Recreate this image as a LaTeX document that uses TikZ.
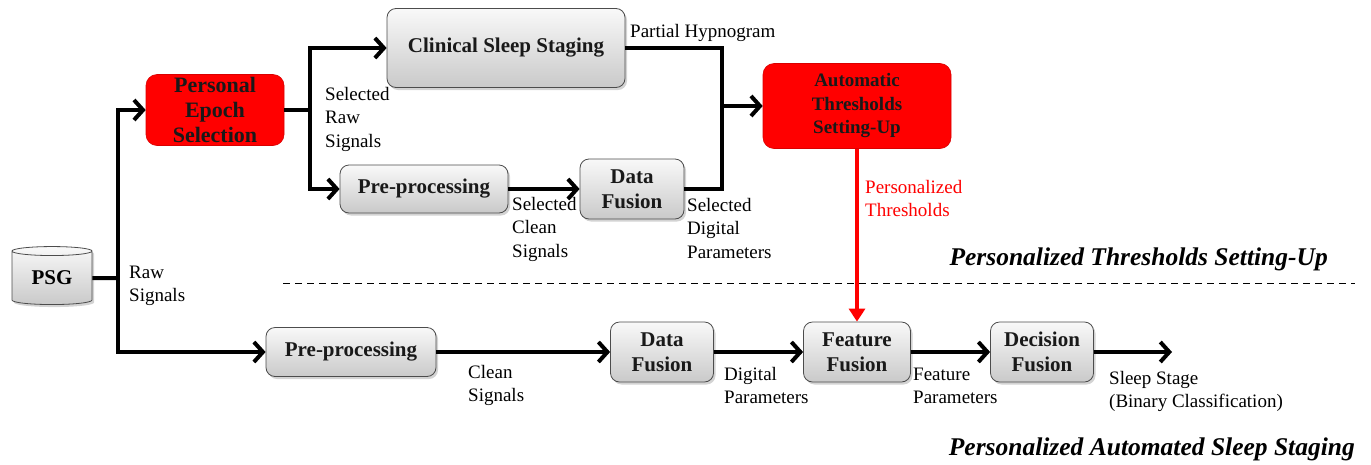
\documentclass[tikz,border=0pt]{standalone}
\usepackage{fontspec}
\setmainfont{Liberation Serif}
\usetikzlibrary{arrows.meta,shapes.geometric,shadows}
\begin{document}
\begin{tikzpicture}[x=1pt,y=-1pt,
  gbox/.style={rectangle, rounded corners=9pt, draw=black!70, line width=0.8pt,
    top color=gray!5, bottom color=gray!42,
    drop shadow={shadow xshift=2pt, shadow yshift=-2.5pt, opacity=0.35},
    font=\fontsize{21}{25}\selectfont\bfseries, text=black!90, align=center, inner sep=0pt},
  rbox/.style={rectangle, rounded corners=11pt, fill=red, draw=red!85!black, line width=0.6pt,
    font=\fontsize{19}{23.5}\selectfont\bfseries, text=black!90, align=center, inner sep=0pt},
  conn/.style={line width=4pt, black},
  arr/.style={conn, -{Straight Barb[length=9pt,width=20pt]}},
  lbl/.style={font=\fontsize{19}{23.5}\selectfont, align=left, anchor=base west, inner sep=0pt},
  ttl/.style={font=\fontsize{25.5}{30}\selectfont\bfseries\itshape, anchor=base east, inner sep=0pt},
]
\useasboundingbox (0,0) rectangle (1371,464);

% nodes
\node[cylinder, shape border rotate=90, aspect=0.22, minimum width=80pt, minimum height=58pt,
  draw=black!70, line width=0.8pt, top color=gray!5, bottom color=gray!42,
  drop shadow={shadow xshift=2pt, shadow yshift=-2.5pt, opacity=0.35},
  font=\fontsize{21}{25}\selectfont\bfseries, inner sep=0pt] (PSG) at (52,278) {PSG};
\node[rbox, minimum width=138pt, minimum height=71pt, font=\fontsize{22}{25}\selectfont\bfseries]
  (PES) at (215,110) {Personal\\Epoch\\Selection};
\node[gbox, minimum width=238pt, minimum height=79pt] (CSS) at (506,48) {Clinical Sleep Staging};
\node[gbox, minimum width=168pt, minimum height=48pt] (PP1) at (424,189) {Pre-processing};
\node[gbox, minimum width=104pt, minimum height=60pt] (DF1) at (632,189) {Data\\Fusion};
\node[rbox, minimum width=188pt, minimum height=85pt] (ATS) at (857,106) {Automatic\\Thresholds\\Setting-Up};
\node[gbox, minimum width=170pt, minimum height=49pt] (PP2) at (351,352) {Pre-processing};
\node[gbox, minimum width=103pt, minimum height=60pt] (DF2) at (662,352) {Data\\Fusion};
\node[gbox, minimum width=107pt, minimum height=60pt] (FF) at (857,352) {Feature\\Fusion};
\node[gbox, minimum width=103pt, minimum height=60pt] (DecF) at (1042,352) {Decision\\Fusion};

% connectors
\coordinate (j1) at (118,278);
\draw[conn] (PSG.east) -- (j1);
\draw[arr] (j1) |- (PES.west);
\draw[arr] (j1) |- (PP2.west);
\coordinate (j2) at (310,110);
\draw[conn] (PES.east) -- (j2);
\draw[arr] (j2) |- (CSS.west);
\draw[arr] (j2) |- (PP1.west);
\coordinate (j3) at (722,106);
\draw[conn] (CSS.east) -| (j3);
\draw[conn] (DF1.east) -| (j3);
\draw[arr] (j3) -- (ATS.west);
\draw[arr] (PP1) -- (DF1);
\draw[red, line width=4pt, -{Triangle[length=13pt,width=16pt]}] (ATS.south) -- (FF.north);
\draw[arr] (PP2) -- (DF2);
\draw[arr] (DF2) -- (FF);
\draw[arr] (FF) -- (DecF);
\coordinate (out) at (1172,352);
\draw[arr] (DecF) -- (out);

% divider
\coordinate (d1) at (283,283);
\coordinate (d2) at (1355,283);
\draw[line width=1pt, dash pattern=on 7pt off 5pt] (d1) -- (d2);

% labels (anchored at the baseline of the last line)
\node[lbl] (l1) at (325,147) {Selected\\Raw\\Signals};
\node[lbl] (l2) at (630,37) {Partial Hypnogram};
\node[lbl] (l3) at (512,257) {Selected\\Clean\\Signals};
\node[lbl] (l4) at (687,258) {Selected\\Digital\\Parameters};
\node[lbl, text=red] (l5) at (865,216.5) {Personalized\\Thresholds};
\node[lbl] (l6) at (129,301.5) {Raw\\Signals};
\node[lbl] (l7) at (468,401.5) {Clean\\Signals};
\node[lbl] (l8) at (724,403.5) {Digital\\Parameters};
\node[lbl] (l9) at (913,403.5) {Feature\\Parameters};
\node[lbl] (l10) at (1109,407.5) {Sleep Stage\\(Binary Classification)};

\node[ttl] (t1) at (1328,265) {Personalized Thresholds Setting-Up};
\node[ttl] (t2) at (1355,455) {Personalized Automated Sleep Staging};
\end{tikzpicture}
\end{document}
